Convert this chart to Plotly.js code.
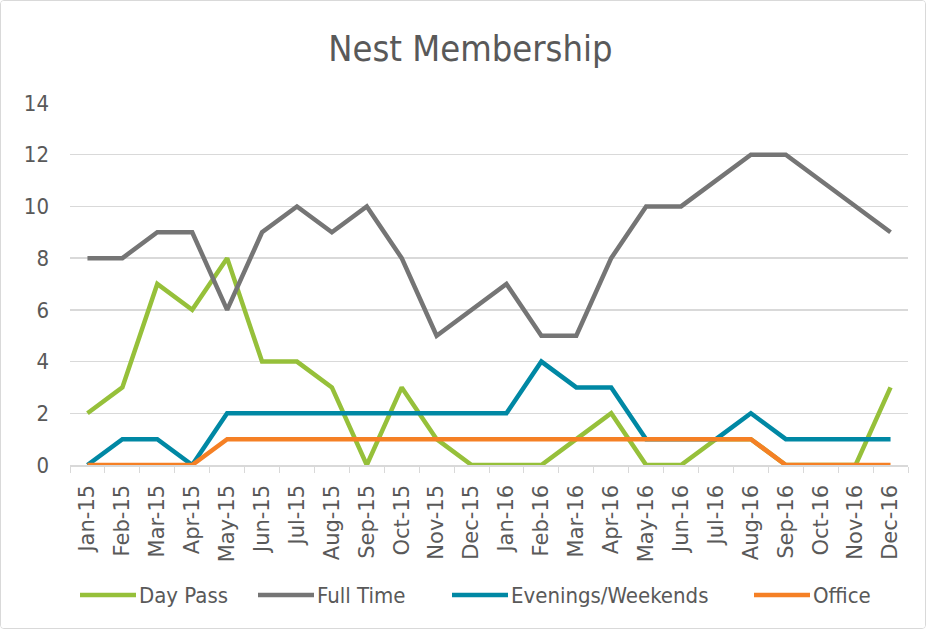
<!DOCTYPE html>
<html><head><meta charset="utf-8">
<script src="https://cdn.plot.ly/plotly-3.0.1.min.js"></script>
<style>
html,body{margin:0;padding:0;background:#fff;}
#wrap{width:926px;height:629px;box-sizing:border-box;border:1px solid #d9d9d9;border-radius:4px;overflow:hidden;}
#chart{width:924px;height:627px;}
</style></head>
<body><div id="wrap"><div id="chart"></div></div>
<script>
const months = ["Jan-15","Feb-15","Mar-15","Apr-15","May-15","Jun-15","Jul-15","Aug-15","Sep-15","Oct-15","Nov-15","Dec-15",
                "Jan-16","Feb-16","Mar-16","Apr-16","May-16","Jun-16","Jul-16","Aug-16","Sep-16","Oct-16","Nov-16","Dec-16"];
const dayPass = [2,3,7,6,8,4,4,3,0,3,1,0, 0,0,1,2,0,0,1,1,0,0,0,3];
const fullTime = [8,8,9,9,6,9,10,9,10,8,5,6, 7,5,5,8,10,10,11,12,12,11,10,9];
const eveningsWeekends = [0,1,1,0,2,2,2,2,2,2,2,2, 2,4,3,3,1,1,1,2,1,1,1,1];
const office = [0,0,0,0,1,1,1,1,1,1,1,1, 1,1,1,1,1,1,1,1,0,0,0,0];
const seriesNames = ["Day Pass","Full Time","Evenings/Weekends","Office"];
const seriesColors = ["#96C03A","#757575","#0088A4","#F58025"];

const condFont = '"DejaVu Sans Condensed", "Liberation Sans Narrow", Lato, sans-serif';
const tickFont = '"DejaVu Sans", Lato, sans-serif';
const textColor = '#595959';

const data = [dayPass, fullTime, eveningsWeekends, office].map((ys, i) => ({
  x: months, y: ys, type: 'scatter', mode: 'lines', name: seriesNames[i],
  line: {color: seriesColors[i], width: 4.5}, showlegend: false
}));

// Custom legend (Excel-style long line samples)
const plotLeft = 70, plotWidth = 838, plotBottom = 465, plotHeight = 362;
const legendStartPx = [80, 258, 452, 754];
const legendY = (plotBottom - 595) / plotHeight;
const shapes = [], annotations = [];
seriesNames.forEach((name, i) => {
  const x0 = legendStartPx[i];
  shapes.push({type: 'line', xref: 'paper', yref: 'paper',
    x0: (x0 - plotLeft) / plotWidth, x1: (x0 + 56 - plotLeft) / plotWidth,
    y0: legendY, y1: legendY, line: {color: seriesColors[i], width: 4.5}});
  annotations.push({xref: 'paper', yref: 'paper', x: (x0 + 58 - plotLeft) / plotWidth, y: legendY,
    xanchor: 'left', yanchor: 'middle', showarrow: false, text: name,
    font: {family: condFont, size: 22, color: textColor}, borderpad: 0});
});

const layout = {
  width: 924, height: 627,
  margin: {l: 69, r: 17, t: 102, b: 163},
  paper_bgcolor: '#fff', plot_bgcolor: '#fff',
  font: {family: condFont, color: textColor, size: 16},
  title: {text: 'Nest Membership', font: {family: condFont, size: 36, color: textColor}, x: 0.508, xanchor: 'center', y: 0.925, yanchor: 'middle'},
  xaxis: {
    type: 'category', range: [-0.5, 23.5], tickangle: -90,
    showline: true, linecolor: '#d9d9d9', linewidth: 1.5,
    ticks: 'outside', tickson: 'boundaries', ticklen: 6, tickcolor: '#d9d9d9',
    showgrid: false, tickfont: {family: tickFont, size: 21, color: textColor}, automargin: false,
    ticklabelstandoff: 10
  },
  yaxis: {
    range: [0, 14], dtick: 2, showgrid: true, gridcolor: '#d9d9d9', gridwidth: 1.5,
    zeroline: false, showline: false, ticks: '', tickfont: {family: condFont, size: 22, color: textColor},
    ticklabelstandoff: 20, automargin: false
  },
  showlegend: false,
  shapes: shapes,
  annotations: annotations
};
Plotly.newPlot('chart', data, layout, {displayModeBar: false, staticPlot: true});
</script></body></html>
